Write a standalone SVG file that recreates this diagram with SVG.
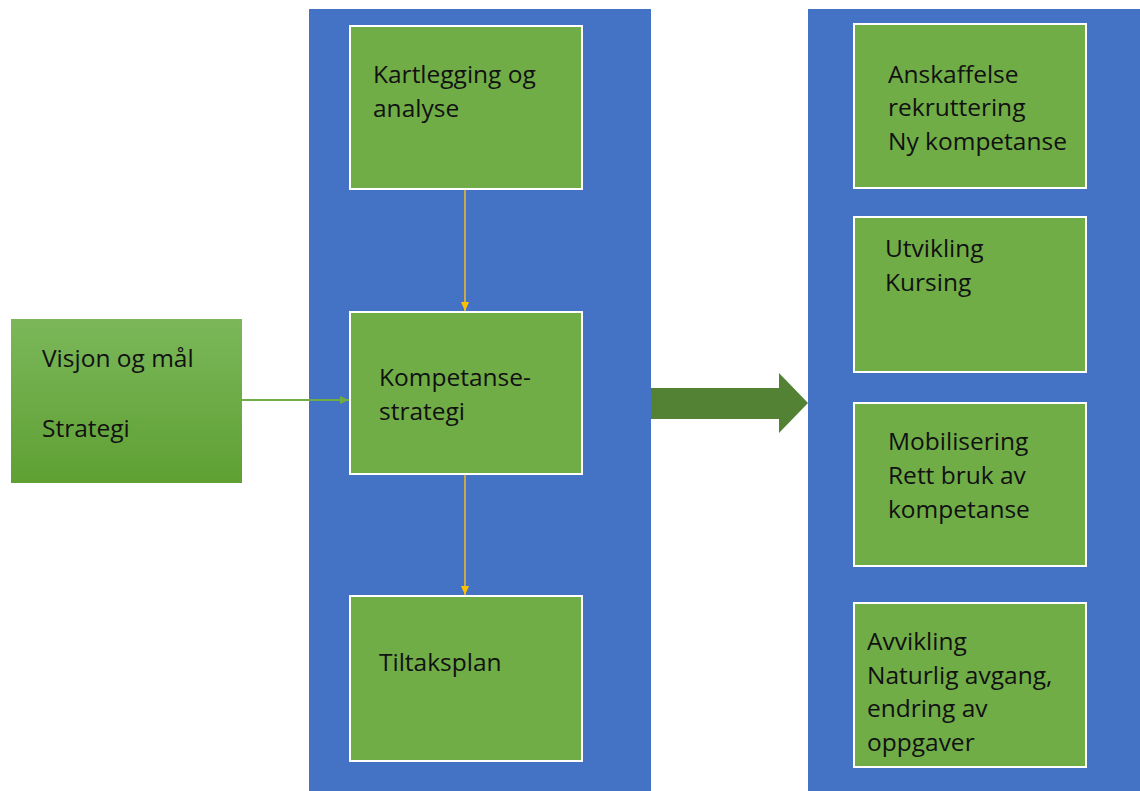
<svg xmlns="http://www.w3.org/2000/svg" width="1140" height="791" viewBox="0 0 1140 791">
<defs>
<linearGradient id="gL" x1="0" y1="0" x2="0" y2="1">
<stop offset="0" stop-color="#7BB75A"/>
<stop offset="1" stop-color="#5FA033"/>
</linearGradient>
<marker id="aY" markerWidth="10" markerHeight="10" refX="9" refY="5" orient="auto" markerUnits="userSpaceOnUse">
<path d="M0,1 L9,5 L0,9 Z" fill="#FFC000"/>
</marker>
<marker id="aG" markerWidth="10" markerHeight="10" refX="9" refY="5" orient="auto" markerUnits="userSpaceOnUse">
<path d="M0,1 L9,5 L0,9 Z" fill="#70AD47"/>
</marker>
</defs>
<style>
.panel{fill:#4472C4}
.box{fill:#70AD47;stroke:#FFFFFF;stroke-width:2}
text{font-family:"Open Sans","Liberation Sans",sans-serif;font-size:24.5px;fill:#111}
.yl{stroke:#C9A84A;stroke-width:2;fill:none}
.gl{stroke:#70AD47;stroke-width:2;fill:none}
</style>
<rect width="1140" height="791" fill="#FFFFFF"/>
<rect class="panel" x="309" y="9" width="342" height="782"/>
<rect class="panel" x="808" y="9" width="332" height="782"/>

<g id="connectors">
<line class="yl" x1="465" y1="189" x2="465" y2="311" marker-end="url(#aY)"/>
<line class="yl" x1="465" y1="474" x2="465" y2="595" marker-end="url(#aY)"/>
<line class="gl" x1="242" y1="400" x2="349" y2="400" marker-end="url(#aG)"/>
<path d="M651,388 L779,388 L779,373 L808,403 L779,433 L779,419 L651,419 Z" fill="#548235"/>
</g>

<g id="visjon">
<rect x="11" y="319" width="231" height="164" fill="url(#gL)"/>
<text x="42" y="367">Visjon og mål</text>
<text x="42" y="437">Strategi</text>
</g>
<g id="kartlegging">
<rect class="box" x="350" y="26" width="232" height="163"/>
<text x="373" y="83">Kartlegging og</text>
<text x="373" y="117">analyse</text>
</g>
<g id="kompetansestrategi">
<rect class="box" x="350" y="312" width="232" height="162"/>
<text x="379" y="386">Kompetanse-</text>
<text x="379" y="420">strategi</text>
</g>
<g id="tiltaksplan">
<rect class="box" x="350" y="596" width="232" height="165"/>
<text x="379" y="671">Tiltaksplan</text>
</g>
<g id="anskaffelse">
<rect class="box" x="854" y="24" width="232" height="164"/>
<text x="888" y="83">Anskaffelse</text>
<text x="888" y="116">rekruttering</text>
<text x="888" y="150">Ny kompetanse</text>
</g>
<g id="utvikling">
<rect class="box" x="854" y="217" width="232" height="155"/>
<text x="885" y="257">Utvikling</text>
<text x="885" y="291">Kursing</text>
</g>
<g id="mobilisering">
<rect class="box" x="854" y="403" width="232" height="163"/>
<text x="888" y="450">Mobilisering</text>
<text x="888" y="484">Rett bruk av</text>
<text x="888" y="518">kompetanse</text>
</g>
<g id="avvikling">
<rect class="box" x="854" y="603" width="232" height="164"/>
<text x="867" y="650">Avvikling</text>
<text x="867" y="684">Naturlig avgang,</text>
<text x="867" y="717">endring av</text>
<text x="867" y="751">oppgaver</text>
</g>
</svg>
